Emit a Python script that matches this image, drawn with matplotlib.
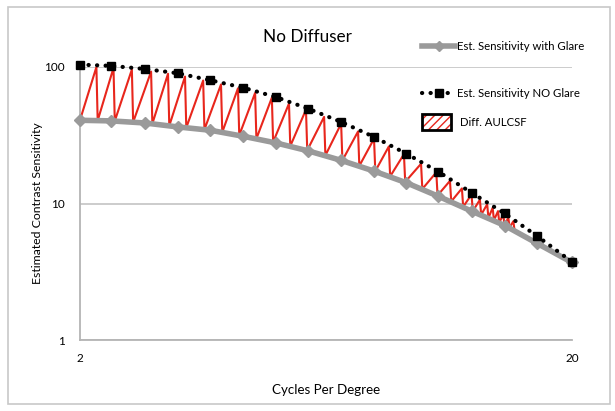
import numpy as np
import matplotlib.pyplot as plt
from matplotlib.lines import Line2D
from matplotlib.patches import Patch, Rectangle
from matplotlib.legend_handler import HandlerTuple
from matplotlib.ticker import NullLocator

plt.rcParams['font.family'] = ['Lato', 'DejaVu Sans']

# cycles per degree (log spaced sample points)
freqs = [2.0, 2.31, 2.71, 3.16, 3.68, 4.29, 5.0, 5.82, 6.79, 7.91, 9.21, 10.7, 12.5, 14.6, 17.0, 20.0]
with_glare = [40.7, 40.3, 38.9, 36.4, 34.4, 31.1, 27.8, 24.3, 20.7, 17.3, 14.2, 11.3, 8.8, 6.9, 5.1, 3.7]
no_glare = [104, 102, 96.7, 90, 80, 70.6, 60.3, 49.5, 39.6, 30.8, 23.2, 17.1, 12.0, 8.45, 5.77, 3.74]

# where the red hatch teeth of the AULCSF difference area sit
teeth = [2.16, 2.34, 2.55, 2.79, 3.02, 3.27, 3.56, 3.87, 4.19, 4.54, 4.91, 5.32, 5.76,
         6.27, 6.79, 7.35, 7.92, 8.49, 9.11, 9.87, 10.6, 11.3, 11.95, 12.5, 13.0,
         13.45, 13.8, 14.15, 14.5, 14.85, 15.2]

red = '#e8261c'
grey = '#9a9a9a'


def loginterp(x, xp, yp):
    return 10 ** np.interp(np.log10(x), np.log10(xp), np.log10(yp))


zx = [freqs[0]]
zy = [with_glare[0]]
for t in teeth:
    zx += [t, t * 1.006]
    zy += [loginterp(t, freqs, no_glare) * 0.97, loginterp(t, freqs, with_glare)]

fig = plt.figure(figsize=(6.15, 4.11), dpi=100)
ax = fig.add_axes([0.130, 0.1727, 0.800, 0.6643])

ax.plot(zx, zy, color=red, lw=1.5, zorder=2)
ax.plot(freqs, with_glare, color=grey, lw=4, marker='D', ms=6.5, zorder=3, clip_on=False)
ax.plot(freqs, no_glare, color='black', lw=3, linestyle=(0, (0.05, 2.0)),
        dash_capstyle='round', marker='s', ms=5.5, zorder=4, clip_on=False)

ax.set_xscale('log')
ax.set_yscale('log')
ax.set_xlim(2, 20)
ax.set_ylim(1, 100)
ax.set_xticks([2, 20], ['2', '20'])
ax.set_yticks([1, 10, 100], ['1', '10', '100'])
ax.xaxis.set_minor_locator(NullLocator())
ax.yaxis.set_minor_locator(NullLocator())
ax.tick_params(axis='both', length=0, labelsize=8.5)
ax.tick_params(axis='y', pad=11)
ax.tick_params(axis='x', pad=9)
ax.yaxis.grid(True, color='#c4c4c4', lw=1.2)
ax.set_axisbelow(True)
for s in ['top', 'right']:
    ax.spines[s].set_visible(False)
for s in ['left', 'bottom']:
    ax.spines[s].set_color('#b4b4b4')
    ax.spines[s].set_linewidth(1.3)

ax.set_xlabel('Cycles Per Degree', fontsize=9.6, labelpad=15)
ax.set_ylabel('Estimated Contrast Sensitivity', fontsize=8.8, labelpad=6)
ax.yaxis.set_label_coords(-0.075, 0.5)
fig.text(0.5, 1 - 37 / 411, 'No Diffuser', ha='center', va='center', fontsize=12.3)

# legend entries, placed one by one like the original
h1 = Line2D([], [], color=grey, lw=4, marker='D', ms=5, markevery=[1])
h2 = Line2D([], [], color='black', lw=3, linestyle=(0, (0.05, 2.0)),
            dash_capstyle='round', marker='s', ms=5.5, markevery=[1])
h3 = (Patch(facecolor='white', edgecolor=red, hatch='////', lw=0),
      Patch(facecolor='none', edgecolor='black', lw=2))
for h, lab, y, hl, hh, pad in [(h1, 'Est. Sensitivity with Glare', 46, 2.9, 0.7, 0.15),
                               (h2, 'Est. Sensitivity NO Glare', 93, 2.9, 0.7, 0.15),
                               (h3, 'Diff. AULCSF', 122, 2.5, 1.9, 0.8)]:
    fig.legend([h], [lab], loc='center left', bbox_to_anchor=(412 / 615, 1 - y / 411),
               frameon=False, fontsize=8.2, handlelength=hl, handleheight=hh,
               handletextpad=pad, handler_map={tuple: HandlerTuple(ndivide=1)})

fig.patches.append(Rectangle((8 / 615, 7 / 411), 602 / 615, 397 / 411, transform=fig.transFigure,
                             fill=False, edgecolor='#c8c8c8', lw=1.2))

fig.savefig('out.png', dpi=100)
